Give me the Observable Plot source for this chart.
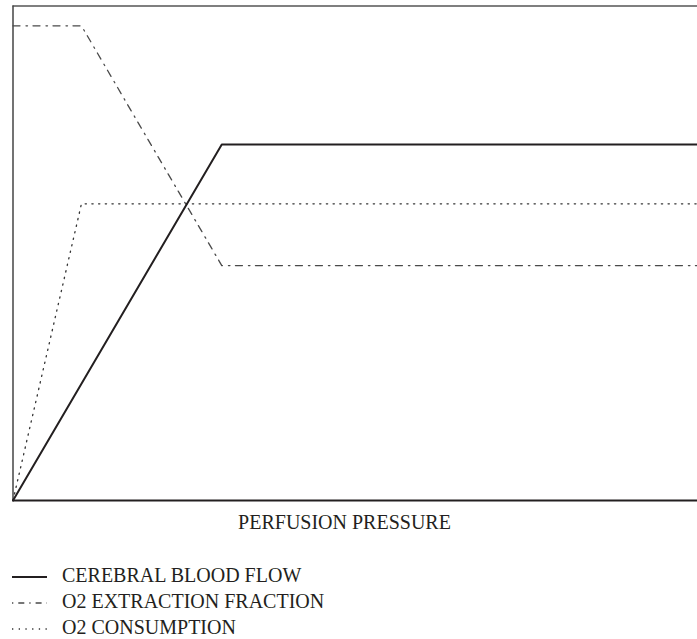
<!DOCTYPE html>
<html>
<head>
<meta charset="utf-8">
<script src="https://cdn.jsdelivr.net/npm/d3@7"></script>
<script src="https://cdn.jsdelivr.net/npm/@observablehq/plot@0.6"></script>
<style>
  html, body { margin: 0; padding: 0; background: #fff; }
  body { width: 697px; height: 639px; overflow: hidden; font-family: "Liberation Serif", "DejaVu Serif", serif; color: #231f20; }
  #xlabel { width: 689px; text-align: center; font-size: 20px; line-height: 20px; margin-top: 10px; }
  #legend { margin-top: 30px; padding-left: 12px; font-size: 20px; line-height: 26px; }
  #legend .row { white-space: nowrap; }
  #legend svg { vertical-align: baseline; margin-right: 15px; }
</style>
</head>
<body>
<div id="chart"></div>
<div id="xlabel"></div>
<div id="legend"></div>
<script>
// Series (x = perfusion pressure, y = relative level)
const cbfX = [0, 30.5, 100];
const cbfY = [0, 72, 72];
const oefX = [0, 10, 30.5, 100];
const oefY = [96, 96, 47.5, 47.5];
const cmro2X = [0, 10, 100];
const cmro2Y = [0, 60, 60];

const seriesNames = ["CEREBRAL BLOOD FLOW", "O2 EXTRACTION FRACTION", "O2 CONSUMPTION"];
const xLabel = "PERFUSION PRESSURE";

const styles = [
  {stroke: "#231f20", strokeWidth: 2, dash: null},
  {stroke: "#4a4a4a", strokeWidth: 1.3, dash: "7,6,1.5,5.5"},
  {stroke: "#333", strokeWidth: 1.3, dash: "1.3,5.4"}
];

const toRows = (xs, ys) => xs.map((x, i) => ({x, y: ys[i]}));
const cbf = toRows(cbfX, cbfY);
const oef = toRows(oefX, oefY);
const cmro2 = toRows(cmro2X, cmro2Y);

const plot = Plot.plot({
  width: 697,
  height: 502,
  marginTop: 5.5,
  marginLeft: 12.5,
  marginRight: 0,
  marginBottom: 2,
  x: {domain: [0, 100], axis: null},
  y: {domain: [0, 100], axis: null},
  marks: [
    Plot.ruleY([100], {stroke: "#555", strokeWidth: 1.3}),
    Plot.ruleX([0], {stroke: "#444", strokeWidth: 1.5}),
    Plot.line(cmro2, {x: "x", y: "y", stroke: styles[2].stroke, strokeWidth: styles[2].strokeWidth, strokeDasharray: styles[2].dash}),
    Plot.line(oef, {x: "x", y: "y", stroke: styles[1].stroke, strokeWidth: styles[1].strokeWidth, strokeDasharray: styles[1].dash}),
    Plot.line(cbf, {x: "x", y: "y", stroke: styles[0].stroke, strokeWidth: styles[0].strokeWidth}),
    Plot.ruleY([0], {stroke: "#231f20", strokeWidth: 2})
  ]
});
document.getElementById("chart").appendChild(plot);
document.getElementById("xlabel").textContent = xLabel;

const legend = document.getElementById("legend");
seriesNames.forEach((name, i) => {
  const s = styles[i];
  const row = document.createElement("div");
  row.className = "row";
  const dashAttr = s.dash ? ` stroke-dasharray="${i === 1 ? "1.3,5,6,5" : s.dash}"` : "";
  row.innerHTML = `<svg width="35" height="10"><line x1="0" x2="35" y1="5" y2="5" stroke="${s.stroke}" stroke-width="${s.strokeWidth}"${dashAttr}/></svg>`;
  row.appendChild(document.createTextNode(name));
  legend.appendChild(row);
});
</script>
</body>
</html>
